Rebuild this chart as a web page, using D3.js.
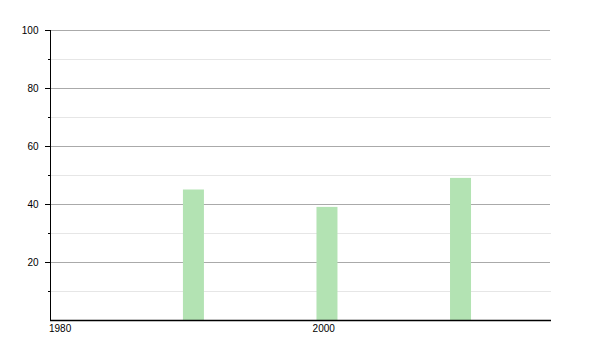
<!DOCTYPE html>
<html>
<head>
<meta charset="utf-8">
<script src="https://cdn.jsdelivr.net/npm/d3@7"></script>
<style>
  body { margin: 0; background: #fff; }
  text { font-family: "Liberation Sans", Arial, sans-serif; font-size: 10px; fill: #000; }
</style>
</head>
<body>
<div id="chart"></div>
<script>
const years = [1991, 2001, 2011];
const values = [45, 39, 49];
const yMajorTicks = [20, 40, 60, 80, 100];
const yMinorTicks = [10, 30, 50, 70, 90];
const xTickValues = [1980, 2000];
const xDomain = [1980.26, 2017.7];

const width = 600;
const height = 350;
const margin = { top: 30, right: 50, bottom: 30, left: 50 };

const svg = d3.select("#chart")
    .append("svg")
    .attr("width", width)
    .attr("height", height);

const xScale = d3.scaleLinear()
    .domain(xDomain)
    .range([margin.left, width - margin.right]);
const yScale = d3.scaleLinear()
    .domain([0, 100])
    .range([height - margin.bottom, margin.top]);

// gridlines
svg.append("g")
    .selectAll("line")
    .data(yMinorTicks)
    .join("line")
    .attr("x1", margin.left)
    .attr("x2", width - margin.right + 1)
    .attr("y1", (d) => Math.round(yScale(d)) + 0.5)
    .attr("y2", (d) => Math.round(yScale(d)) + 0.5)
    .attr("stroke", "#e6e6e6");

svg.append("g")
    .selectAll("line")
    .data(yMajorTicks)
    .join("line")
    .attr("x1", margin.left)
    .attr("x2", width - margin.right)
    .attr("y1", (d) => Math.round(yScale(d)) + 0.5)
    .attr("y2", (d) => Math.round(yScale(d)) + 0.5)
    .attr("stroke", "#aaaaaa");

// bars
const barWidth = 21;
svg.append("g")
    .selectAll("rect")
    .data(years.map((y, i) => ({ year: y, value: values[i] })))
    .join("rect")
    .attr("x", (d) => xScale(d.year) - barWidth / 2)
    .attr("y", (d) => yScale(d.value))
    .attr("width", barWidth)
    .attr("height", (d) => yScale(0) - yScale(d.value))
    .attr("fill", "#b3e3b3");

// y axis
const yAxis = svg.append("g")
    .attr("transform", `translate(${margin.left + 0.5},0)`);
yAxis.append("line")
    .attr("y1", margin.top)
    .attr("y2", height - margin.bottom)
    .attr("stroke", "#000");
yAxis.selectAll(".minor")
    .data(yMinorTicks)
    .join("line")
    .attr("class", "minor")
    .attr("x1", -2.5)
    .attr("x2", 0)
    .attr("y1", (d) => Math.round(yScale(d)) + 0.5)
    .attr("y2", (d) => Math.round(yScale(d)) + 0.5)
    .attr("stroke", "#000");
yAxis.selectAll(".major")
    .data(yMajorTicks)
    .join("line")
    .attr("class", "major")
    .attr("x1", -5.5)
    .attr("x2", 0)
    .attr("y1", (d) => Math.round(yScale(d)) + 0.5)
    .attr("y2", (d) => Math.round(yScale(d)) + 0.5)
    .attr("stroke", "#000");
yAxis.selectAll("text")
    .data(yMajorTicks)
    .join("text")
    .attr("x", -12)
    .attr("y", (d) => yScale(d))
    .attr("dy", "0.35em")
    .attr("text-anchor", "end")
    .text((d) => d);

// x axis
const xBase = Math.round(yScale(0)) + 0.5;
svg.append("line")
    .attr("x1", margin.left)
    .attr("x2", width - margin.right + 1)
    .attr("y1", xBase)
    .attr("y2", xBase)
    .attr("stroke", "#000")
    .attr("stroke-width", 1.5);
svg.append("g")
    .selectAll("text")
    .data(xTickValues)
    .join("text")
    .attr("x", (d) => Math.max(xScale(d), margin.left) - 1)
    .attr("y", xBase + 11)
    .attr("text-anchor", "start")
    .text((d) => d);
</script>
</body>
</html>
